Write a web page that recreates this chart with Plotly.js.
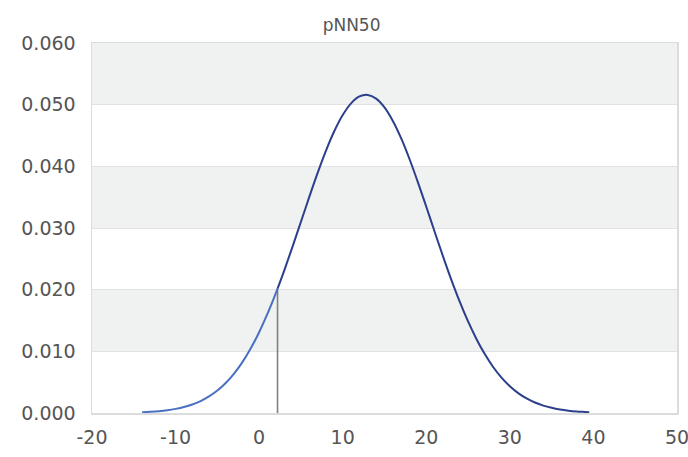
<!DOCTYPE html>
<html>
<head>
<meta charset="utf-8">
<script src="https://cdn.plot.ly/plotly-3.0.1.min.js"></script>
<style>html,body{margin:0;padding:0;background:#fff;}#chart{width:688px;height:457px;overflow:hidden;}</style>
</head>
<body>
<div id="chart"></div>
<script>
// Density curve
const xValues = [-14,-13,-12,-11,-10,-9,-8,-7,-6,-5,-4,-3,-2,-1,0,1,2,2.2,3,4,5,6,7,8,9,10,11,12,13,14,15,16,17,18,19,20,21,22,23,24,25,26,27,28,29,30,31,32,33,34,35,36,37,38,39,39.5];
const yValues = [0.00013,0.00020,0.00030,0.00045,0.00067,0.00097,0.00138,0.00194,0.00268,0.00364,0.00486,0.00639,0.00825,0.01049,0.01310,0.01610,0.01944,0.02016,0.02310,0.02699,0.03101,0.03504,0.03894,0.04256,0.04573,0.04832,0.05022,0.05133,0.05158,0.05098,0.04955,0.04736,0.04452,0.04115,0.03741,0.03344,0.02940,0.02541,0.02160,0.01806,0.01485,0.01201,0.00955,0.00746,0.00574,0.00434,0.00323,0.00236,0.00170,0.00120,0.00084,0.00057,0.00038,0.00025,0.00017,0.00013];
const cutoff = 2.2;
const cutoffValue = 0.02016;
const titleText = 'pNN50';
const yTickVals = [0,0.01,0.02,0.03,0.04,0.05,0.06];
const xTickVals = [-20,-10,0,10,20,30,40,50];

const leftX = [], leftY = [], rightX = [], rightY = [];
xValues.forEach((x,i)=>{
  if (x <= cutoff) { leftX.push(x); leftY.push(yValues[i]); }
  if (x >= cutoff) { rightX.push(x); rightY.push(yValues[i]); }
});

const traces = [
  {x:[cutoff,cutoff], y:[0,cutoffValue], mode:'lines', line:{color:'#808080', width:1.6}, hoverinfo:'skip'},
  {x:leftX, y:leftY, mode:'lines', line:{color:'#4a70c4', width:2, shape:'spline'}},
  {x:rightX, y:rightY, mode:'lines', line:{color:'#2c3f8c', width:2, shape:'spline'}}
];

const bandColor = '#f0f1f1';
const shapes = [[0.01,0.02],[0.03,0.04],[0.05,0.06]].map(b=>({
  type:'rect', xref:'paper', yref:'y', x0:0, x1:1, y0:b[0], y1:b[1],
  fillcolor:bandColor, line:{width:0}, layer:'below'
}));

const layout = {
  width:688, height:457,
  margin:{l:92, r:11, t:43, b:44},
  paper_bgcolor:'#fff', plot_bgcolor:'#fff',
  showlegend:false,
  font:{family:'DejaVu Sans', color:'#555'},
  title:{text:titleText, x:0.511, xref:'container', y:0.945, yref:'container', yanchor:'middle', font:{size:17, color:'#555', family:'DejaVu Sans'}},
  xaxis:{range:[-20,50], tickvals:xTickVals, ticktext:xTickVals.map(String), showgrid:false, zeroline:false,
    showline:true, linecolor:'#dcdcdc', linewidth:1.5, mirror:true, ticks:'', ticklabelstandoff:7, ticklabeloverflow:'allow',
    automargin:false, tickfont:{size:19, color:'#555'}},
  yaxis:{range:[0,0.06], tickvals:yTickVals, ticktext:yTickVals.map(v=>v.toFixed(3)), showgrid:true, gridcolor:'#e2e2e2', gridwidth:1,
    zeroline:false, showline:true, linecolor:'#dcdcdc', linewidth:1.5, mirror:true, ticks:'', ticklabelstandoff:11, tickfont:{size:19, color:'#555'}},
  shapes:shapes
};

Plotly.newPlot('chart', traces, layout, {staticPlot:true, displayModeBar:false});
</script>
</body>
</html>
